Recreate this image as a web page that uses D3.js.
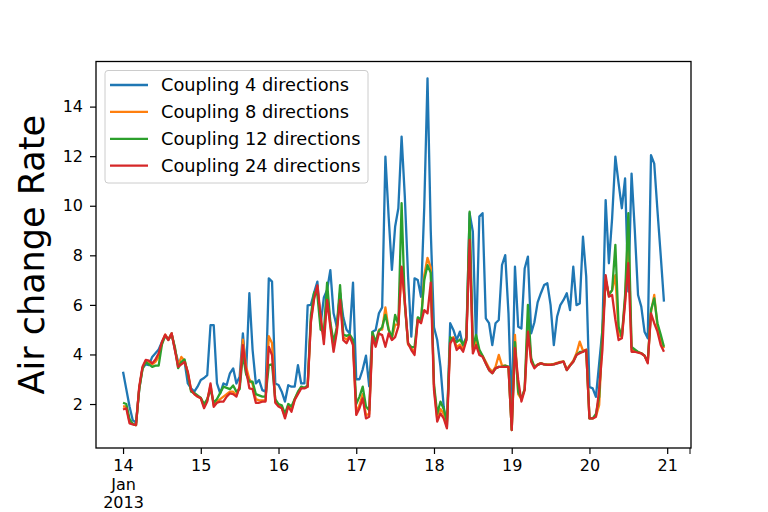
<!DOCTYPE html>
<html>
<head>
<meta charset="utf-8">
<script src="https://cdn.jsdelivr.net/npm/d3@7"></script>
<style>
  body { margin: 0; background: #fff; }
  text { font-family: "DejaVu Sans", sans-serif; }
</style>
</head>
<body>
<div id="chart"></div>
<script>
// hourly readings, Jan 14 2013 00:00 -> Jan 20 2013 23:00
const seriesNames = ["Coupling 4 directions", "Coupling 8 directions", "Coupling 12 directions", "Coupling 24 directions"];
const seriesColors = ["#1f77b4", "#ff7f0e", "#2ca02c", "#d62728"];

const coupling4 = [
  3.30, 2.60, 1.90, 1.35, 1.25, 2.60, 3.45, 3.60, 3.57, 3.90, 4.05, 4.20, 4.50, 4.75, 4.60, 4.85, 4.20, 3.70, 3.64, 3.70, 2.83, 2.63, 2.50, 2.70,
  2.97, 3.05, 3.17, 5.18, 5.18, 2.83, 2.43, 2.83, 2.77, 3.24, 3.44, 2.83, 3.10, 4.85, 3.24, 6.47, 4.18, 2.83, 2.97, 2.56, 2.50, 7.07, 6.94, 2.83,
  2.77, 2.50, 2.10, 2.76, 2.70, 2.70, 3.57, 2.83, 2.83, 5.98, 6.00, 6.50, 6.94, 5.20, 6.30, 6.60, 7.40, 5.66, 5.12, 6.47, 5.50, 5.00, 4.85, 6.90,
  3.00, 3.00, 3.40, 3.95, 2.71, 4.92, 4.99, 5.66, 5.90, 11.98, 9.56, 7.41, 9.15, 9.90, 12.79, 10.36, 7.14, 4.72, 7.07, 7.00, 6.33, 9.96, 15.14, 9.00,
  5.10, 4.58, 3.50, 1.89, 1.08, 5.26, 4.99, 4.58, 4.92, 4.31, 4.58, 9.70, 8.95, 4.45, 9.56, 9.70, 5.46, 5.26, 4.38, 5.26, 5.39, 7.61, 8.01, 5.66,
  1.62, 7.54, 5.12, 5.05, 7.47, 7.95, 4.85, 5.30, 6.10, 6.47, 6.80, 6.87, 5.99, 4.38, 5.52, 5.99, 6.20, 6.47, 5.79, 7.54, 5.99, 6.06, 8.75, 7.14,
  2.69, 2.63, 2.29, 3.64, 5.00, 10.23, 7.68, 9.50, 11.98, 10.90, 9.90, 11.10, 6.54, 11.30, 9.00, 6.40, 5.93, 4.92, 4.65, 12.04, 11.70, 9.80, 8.00, 6.13
];

const coupling8 = [
  1.90, 1.90, 1.30, 1.20, 1.15, 2.65, 3.45, 3.75, 3.70, 3.60, 3.70, 3.90, 4.45, 4.80, 4.60, 4.85, 4.25, 3.55, 3.90, 3.75, 3.25, 2.55, 2.40, 2.30,
  2.25, 1.90, 2.15, 2.75, 1.95, 2.10, 2.20, 2.30, 2.40, 2.50, 2.50, 2.35, 2.70, 4.60, 3.50, 3.00, 2.80, 2.20, 2.15, 2.15, 2.15, 4.74, 4.45, 2.10,
  1.95, 1.85, 1.50, 1.95, 1.75, 2.20, 2.45, 2.65, 2.65, 2.70, 5.40, 6.30, 6.70, 5.40, 4.60, 6.50, 5.20, 4.30, 5.00, 6.50, 4.70, 4.60, 4.75, 4.45,
  1.65, 1.95, 2.40, 1.55, 1.60, 4.80, 4.50, 5.00, 5.00, 5.90, 5.00, 4.65, 5.20, 5.20, 7.50, 6.10, 4.40, 4.25, 4.10, 5.45, 5.30, 7.20, 7.90, 7.50,
  2.70, 1.40, 1.80, 1.60, 1.15, 4.60, 4.70, 4.30, 4.40, 4.20, 4.65, 9.00, 4.20, 4.50, 4.10, 3.95, 3.70, 3.45, 3.30, 3.50, 3.98, 3.55, 3.55, 3.50,
  0.95, 4.79, 2.40, 2.20, 2.60, 5.30, 3.80, 3.50, 3.60, 3.65, 3.60, 3.60, 3.60, 3.62, 3.66, 3.70, 3.72, 3.40, 3.58, 3.75, 4.05, 4.52, 4.15, 4.20,
  1.42, 1.42, 1.50, 1.96, 4.80, 7.00, 6.40, 6.60, 7.20, 4.80, 4.70, 6.20, 8.80, 4.20, 4.15, 4.10, 4.05, 3.95, 3.70, 5.70, 6.40, 5.10, 4.60, 4.25
];

const coupling12 = [
  2.05, 2.00, 1.40, 1.20, 1.15, 2.60, 3.40, 3.70, 3.60, 3.50, 3.55, 3.55, 4.40, 4.75, 4.60, 4.80, 4.30, 3.45, 3.70, 3.80, 3.20, 2.50, 2.45, 2.35,
  2.25, 2.00, 2.20, 2.60, 2.05, 2.20, 2.45, 2.70, 2.65, 2.60, 2.75, 2.50, 2.60, 4.00, 3.20, 2.90, 2.90, 2.40, 2.35, 2.30, 2.30, 3.57, 3.60, 2.20,
  2.00, 1.95, 1.60, 2.00, 1.90, 2.20, 2.50, 2.70, 2.65, 2.75, 5.60, 6.50, 6.40, 5.00, 4.90, 6.90, 5.30, 4.50, 5.10, 6.80, 4.80, 4.75, 4.80, 4.60,
  2.00, 2.30, 2.70, 1.90, 1.75, 4.90, 4.50, 4.95, 5.10, 5.60, 5.00, 4.70, 5.60, 5.20, 10.10, 6.00, 4.45, 4.30, 4.30, 5.50, 5.40, 7.00, 7.60, 7.30,
  2.80, 1.60, 2.10, 1.80, 1.30, 4.70, 4.60, 4.50, 4.60, 4.40, 4.70, 9.76, 4.30, 4.79, 4.20, 3.95, 3.64, 3.37, 3.24, 3.44, 3.50, 3.50, 3.55, 3.50,
  0.95, 4.50, 2.50, 2.23, 2.60, 6.00, 3.85, 3.50, 3.58, 3.64, 3.60, 3.58, 3.58, 3.60, 3.64, 3.68, 3.71, 3.37, 3.55, 3.71, 3.98, 4.10, 4.11, 4.18,
  1.42, 1.42, 1.60, 2.29, 5.00, 7.00, 6.40, 6.60, 8.42, 5.12, 4.70, 6.40, 9.70, 4.30, 4.20, 4.10, 4.05, 3.95, 3.70, 5.80, 6.26, 5.26, 4.80, 4.31
];

const coupling24 = [
  1.78, 1.83, 1.22, 1.18, 1.15, 2.70, 3.50, 3.78, 3.75, 3.64, 3.80, 4.05, 4.50, 4.80, 4.58, 4.85, 4.18, 3.50, 3.60, 3.70, 3.30, 2.57, 2.40, 2.30,
  2.23, 1.83, 2.10, 2.83, 1.89, 2.05, 2.10, 2.10, 2.30, 2.43, 2.40, 2.30, 2.70, 4.38, 3.37, 2.63, 2.60, 2.05, 2.05, 2.10, 2.10, 4.31, 3.97, 2.05,
  1.90, 1.83, 1.42, 1.90, 1.69, 2.16, 2.40, 2.63, 2.63, 2.70, 5.30, 6.25, 6.79, 5.57, 4.42, 6.20, 5.12, 4.11, 4.90, 6.20, 4.58, 4.45, 4.72, 4.38,
  1.56, 1.83, 2.23, 1.42, 1.49, 4.72, 4.31, 4.85, 4.78, 4.31, 4.85, 4.58, 4.70, 5.12, 7.54, 6.13, 4.45, 4.18, 3.98, 5.39, 5.26, 5.79, 5.66, 6.90,
  2.57, 1.29, 1.62, 1.42, 1.02, 4.45, 4.65, 4.18, 4.31, 4.11, 4.58, 8.62, 4.04, 4.38, 3.98, 3.91, 3.64, 3.37, 3.24, 3.44, 3.50, 3.50, 3.50, 3.50,
  0.95, 4.25, 2.98, 2.10, 2.57, 4.92, 3.71, 3.44, 3.58, 3.64, 3.60, 3.58, 3.58, 3.60, 3.64, 3.68, 3.71, 3.37, 3.55, 3.71, 3.98, 4.05, 4.11, 4.18,
  1.42, 1.42, 1.49, 2.58, 4.18, 7.20, 6.33, 6.40, 5.40, 4.58, 4.65, 6.06, 7.68, 4.11, 4.11, 4.07, 4.04, 3.95, 3.64, 5.66, 5.26, 4.92, 4.38, 4.11
];

const xTickDays = [14, 15, 16, 17, 18, 19, 20, 21];
const yTicks = [2, 4, 6, 8, 10, 12, 14];

const width = 768, height = 512;
const plotLeft = 96, plotRight = 691, plotTop = 61.5, plotBottom = 448;

const startTime = new Date(2013, 0, 14, 0, 0);
const hourMs = 3600 * 1000;
const allSeries = [coupling4, coupling8, coupling12, coupling24];
const times = coupling4.map((d, i) => new Date(startTime.getTime() + i * hourMs));

// matplotlib style 5% margins
const tMin = times[0].getTime(), tMax = times[times.length - 1].getTime();
const tPad = (tMax - tMin) * 0.05;

const x = d3.scaleTime()
  .domain([new Date(tMin - tPad), new Date(tMax + tPad)])
  .range([plotLeft, plotRight]);

const y = d3.scaleLinear()
  .domain([0.226, 15.82])
  .range([plotBottom, plotTop]);

const svg = d3.select("#chart")
  .append("svg")
  .attr("width", width)
  .attr("height", height)
  .style("background", "#fff");

svg.append("defs").append("clipPath")
  .attr("id", "plot-clip")
  .append("rect")
  .attr("x", plotLeft).attr("y", plotTop)
  .attr("width", plotRight - plotLeft).attr("height", plotBottom - plotTop);

// lines
const line = d3.line()
  .x((d, i) => x(times[i]))
  .y(d => y(d));

svg.append("g")
  .attr("clip-path", "url(#plot-clip)")
  .selectAll("path")
  .data(allSeries)
  .join("path")
  .attr("fill", "none")
  .attr("stroke", (d, i) => seriesColors[i])
  .attr("stroke-width", 2.3)
  .attr("stroke-linejoin", "round")
  .attr("d", line);

// x axis
const xTickDates = xTickDays.map(d => new Date(2013, 0, d));
const xAxis = svg.append("g")
  .attr("transform", `translate(0,${plotBottom})`)
  .call(d3.axisBottom(x)
    .tickValues(xTickDates)
    .tickFormat(d => d.getDate())
    .tickSize(6)
    .tickPadding(6));

xAxis.selectAll("text")
  .attr("font-size", 16)
  .attr("fill", "#000");

xAxis.select(".tick text")
  .each(function () {
    const t = d3.select(this);
    t.append("tspan").attr("x", 0).attr("dy", "1.15em").text("Jan");
    t.append("tspan").attr("x", 0).attr("dy", "1.15em").text("2013");
  });

// extra small tick at the right edge
xAxis.append("line")
  .attr("x1", plotRight - 1).attr("x2", plotRight - 1)
  .attr("y1", 0).attr("y2", 6)
  .attr("stroke", "#000");

// y axis
const yAxis = svg.append("g")
  .attr("transform", `translate(${plotLeft},0)`)
  .call(d3.axisLeft(y)
    .tickValues(yTicks)
    .tickSize(6)
    .tickPadding(7));

yAxis.selectAll("text")
  .attr("font-size", 16)
  .attr("fill", "#000");

svg.selectAll(".domain").remove();
svg.selectAll(".tick line").attr("stroke", "#000").attr("stroke-width", 1.2);

// frame
svg.append("rect")
  .attr("x", plotLeft).attr("y", plotTop)
  .attr("width", plotRight - plotLeft).attr("height", plotBottom - plotTop)
  .attr("fill", "none")
  .attr("stroke", "#000")
  .attr("stroke-width", 1.3);

// y label
svg.append("text")
  .attr("transform", `translate(44,${(plotTop + plotBottom) / 2}) rotate(-90)`)
  .attr("text-anchor", "middle")
  .attr("font-size", 35)
  .attr("fill", "#000")
  .text("Air change Rate");

// legend
const legend = svg.append("g");
legend.append("rect")
  .attr("x", 105).attr("y", 70.5)
  .attr("width", 263).attr("height", 112.5)
  .attr("rx", 3)
  .attr("fill", "#fff")
  .attr("fill-opacity", 0.8)
  .attr("stroke", "#cccccc");

const rows = legend.selectAll("g.row")
  .data(seriesNames)
  .join("g")
  .attr("class", "row")
  .attr("transform", (d, i) => `translate(0,${85 + i * 26.9})`);

rows.append("line")
  .attr("x1", 110).attr("x2", 148)
  .attr("stroke", (d, i) => seriesColors[i])
  .attr("stroke-width", 2.3);

rows.append("text")
  .attr("x", 161)
  .attr("dy", "0.35em")
  .attr("font-size", 17.8)
  .attr("fill", "#000")
  .text(d => d);
</script>
</body>
</html>
